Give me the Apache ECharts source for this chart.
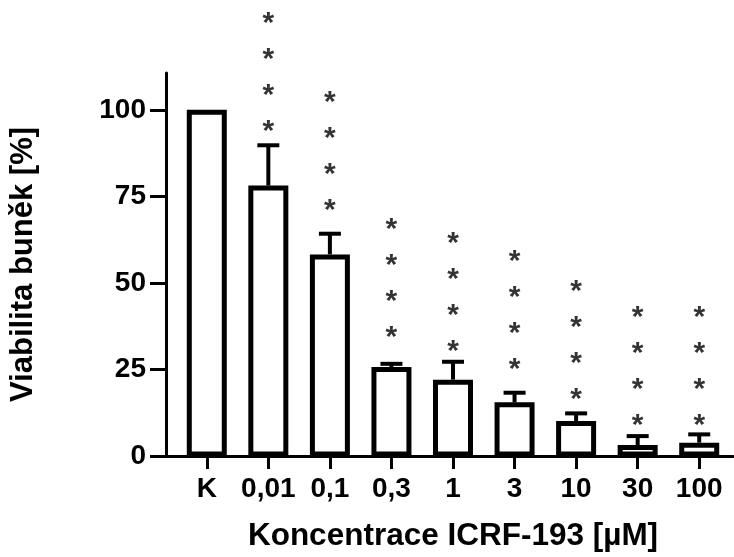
<!DOCTYPE html>
<html>
<head>
<meta charset="utf-8">
<script src="https://cdn.jsdelivr.net/npm/echarts@6/dist/echarts.min.js"></script>
<style>
  html, body { margin: 0; padding: 0; background: #fff; }
  #chart { width: 734px; height: 557px; }
</style>
</head>
<body>
<div id="chart"></div>
<script>
// data
const categories = ["K", "0,01", "0,1", "0,3", "1", "3", "10", "30", "100"];
const means = [100, 78.0, 58.0, 25.3, 21.6, 15.0, 9.6, 2.6, 3.3];
// upper end of the error bar (mean + SD)
const upper = [null, 89.7, 64.0, 26.2, 26.8, 17.8, 11.8, 5.2, 5.7];
// value of the lowest star of each column
const starLevel = [null, 95.1, 72.0, 35.1, 31.2, 25.8, 17.1, 9.6, 9.6];
const yTicks = [0, 25, 50, 75, 100];

const FONT = "Liberation Sans, Arial, sans-serif";
const chart = echarts.init(document.getElementById("chart"));

const barData = [];
const errData = [];
const starData = [];
categories.forEach(function (c, i) {
  barData.push([i, means[i]]);
  if (upper[i] != null) errData.push([i, means[i], upper[i]]);
  if (starLevel[i] != null) starData.push([i, starLevel[i]]);
});

const option = {
  animation: false,
  backgroundColor: "#fff",
  grid: [
    { left: 176, right: 4, top: 73, bottom: 101 },
    { left: 165, right: 1, top: 73, bottom: 101 }
  ],
  xAxis: [
    {
      type: "category",
      gridIndex: 0,
      data: categories,
      boundaryGap: true,
      axisLine: { show: false },
      axisTick: {
        show: true,
        alignWithLabel: true,
        length: 15,
        lineStyle: { color: "#000", width: 3 }
      },
      axisLabel: {
        color: "#000",
        fontFamily: FONT,
        fontWeight: "bold",
        fontSize: 28,
        margin: 21,
        interval: 0
      },
      name: "Koncentrace ICRF-193 [µM]",
      nameLocation: "middle",
      nameGap: 66,
      nameTextStyle: {
        color: "#000",
        fontFamily: FONT,
        fontWeight: "bold",
        fontSize: 31.5
      }
    },
    {
      type: "value",
      gridIndex: 1,
      min: 0,
      max: 1,
      axisLine: { show: true, onZero: false, lineStyle: { color: "#000", width: 3 } },
      axisTick: { show: false },
      axisLabel: { show: false },
      splitLine: { show: false }
    }
  ],
  yAxis: [
    {
      type: "value",
      gridIndex: 0,
      min: 0,
      max: 110.7,
      show: false,
      splitLine: { show: false }
    },
    {
      type: "value",
      gridIndex: 1,
      min: 0,
      max: 110.7,
      axisLine: { show: true, lineStyle: { color: "#000", width: 3 } },
      axisTick: {
        show: true,
        length: 16,
        customValues: yTicks,
        lineStyle: { color: "#000", width: 3 }
      },
      axisLabel: {
        customValues: yTicks,
        color: "#000",
        fontFamily: FONT,
        fontWeight: "bold",
        fontSize: 28,
        margin: 20
      },
      splitLine: { show: false },
      name: "Viabilita buněk [%]",
      nameLocation: "middle",
      nameRotate: 90,
      nameGap: 127,
      nameTextStyle: {
        color: "#000",
        fontFamily: FONT,
        fontWeight: "bold",
        fontSize: 31
      }
    }
  ],
  series: [
    {
      // open bars, outline kept inside the top edge like the original
      type: "custom",
      xAxisIndex: 0,
      yAxisIndex: 0,
      data: barData,
      z: 2,
      renderItem: function (params, api) {
        const top = api.coord([api.value(0), api.value(1)]);
        const bot = api.coord([api.value(0), 0]);
        return {
          type: "rect",
          shape: { x: top[0] - 17.5, y: top[1] + 2.5, width: 35, height: bot[1] - top[1] - 2.5 },
          style: { fill: "#fff", stroke: "#000", lineWidth: 5 }
        };
      }
    },
    {
      type: "custom",
      xAxisIndex: 0,
      yAxisIndex: 0,
      data: errData,
      z: 3,
      renderItem: function (params, api) {
        const base = api.coord([api.value(0), api.value(1)]);
        const top = api.coord([api.value(0), api.value(2)]);
        const style = { stroke: "#000", lineWidth: 4 };
        return {
          type: "group",
          children: [
            { type: "line", shape: { x1: base[0], y1: base[1], x2: top[0], y2: top[1] }, style: style },
            { type: "line", shape: { x1: top[0] - 11, y1: top[1], x2: top[0] + 11, y2: top[1] }, style: style }
          ]
        };
      }
    },
    {
      type: "scatter",
      xAxisIndex: 0,
      yAxisIndex: 0,
      data: starData,
      symbolSize: 1,
      itemStyle: { color: "transparent" },
      z: 4,
      label: {
        show: true,
        position: "inside",
        verticalAlign: "bottom",
        formatter: "*\n*\n*\n*",
        color: "#000",
        fontFamily: FONT,
        fontWeight: "bold",
        fontSize: 30,
        lineHeight: 36,
        offset: [0, 23]
      }
    }
  ]
};

chart.setOption(option);
</script>
</body>
</html>
